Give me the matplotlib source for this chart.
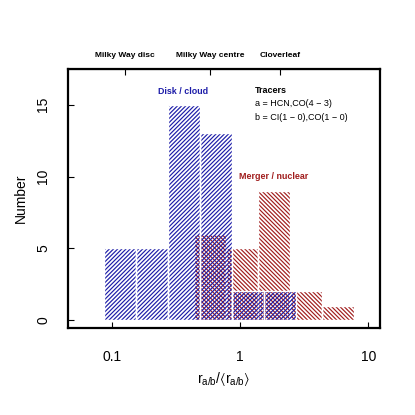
import numpy as np
import matplotlib
matplotlib.use("Agg")
import matplotlib.pyplot as plt

plt.rcParams['font.family'] = ['Liberation Sans', 'DejaVu Sans']
plt.rcParams['mathtext.default'] = 'regular'
plt.rcParams['hatch.linewidth'] = 0.85

# Histogram data (bin edges in r_a/b / <r_a/b>, counts)
disk_edges = [0.0866, 0.154, 0.274, 0.487, 0.866, 1.54, 2.74]
disk_counts = [5, 5, 15, 13, 2, 2]
merger_edges = [0.4375, 0.778, 1.38, 2.46, 4.38, 7.78]
merger_counts = [6, 5, 9, 2, 1]

# Reference objects marked on the top axis
ref_names = ["Milky Way disc", "Milky Way centre", "Cloverleaf"]
ref_values = [0.126, 0.58, 2.05]

BLUE = "#1c1ca8"
RED = "#a01c1c"

fig = plt.figure(figsize=(4.15, 4.15), dpi=100)
ax = fig.add_axes([0.164, 0.2096, 0.752, 0.6244])
ax.set_xscale('log')


def draw_hist(edges, counts, color, hatch):
    left = np.array(edges[:-1])
    width = np.array(edges[1:]) - left
    ax.bar(left, counts, width=width, align='edge', fill=False,
           edgecolor=color, hatch=hatch, linewidth=0)
    ax.bar(left, counts, width=width, align='edge', fill=False,
           edgecolor='white', linewidth=1.0)


draw_hist(merger_edges, merger_counts, RED, '\\' * 8)
draw_hist(disk_edges, disk_counts, BLUE, '/' * 8)

ax.set_xlim(0.045, 12.4)
ax.set_ylim(-0.56, 17.5)
ax.set_xticks([0.1, 1, 10])
ax.set_xticklabels(['0.1', '1', '10'])
ax.minorticks_off()
ax.set_yticks([0, 5, 10, 15])
ax.tick_params(direction='in', length=4, width=0.8, labelsize=10)
ax.tick_params(axis='x', pad=16)
ax.tick_params(axis='y', pad=13)
for lab in ax.get_yticklabels():
    lab.set_rotation(90)
    lab.set_va('center')

for s in ax.spines.values():
    s.set_linewidth(1.6)

sec = ax.secondary_xaxis('top')
sec.set_xticks(ref_values)
sec.set_xticklabels(ref_names, fontsize=6, fontweight='bold')
sec.tick_params(direction='in', length=4, width=0.8, pad=7)
sec.minorticks_off()

ax.set_xlabel(r'$r_{a/b}/\langle r_{a/b}\rangle$', fontsize=10, labelpad=4)
ax.set_ylabel('Number', fontsize=10, labelpad=6)

ax.text(0.359, 15.93, 'Disk / cloud', color=BLUE, fontsize=6.4,
        fontweight='bold', ha='center', va='center')
ax.text(1.81, 10.0, 'Merger / nuclear', color=RED, fontsize=6.4,
        fontweight='bold', ha='center', va='center')
ax.text(1.31, 16.0, 'Tracers', fontsize=6.5, fontweight='bold',
        ha='left', va='center')
ax.text(1.31, 15.07, 'a = HCN,CO(4 \u2212 3)', fontsize=6.5,
        ha='left', va='center')
ax.text(1.31, 14.14, 'b = CI(1 \u2212 0),CO(1 \u2212 0)', fontsize=6.5,
        ha='left', va='center')

fig.savefig('out.png', dpi=100)
